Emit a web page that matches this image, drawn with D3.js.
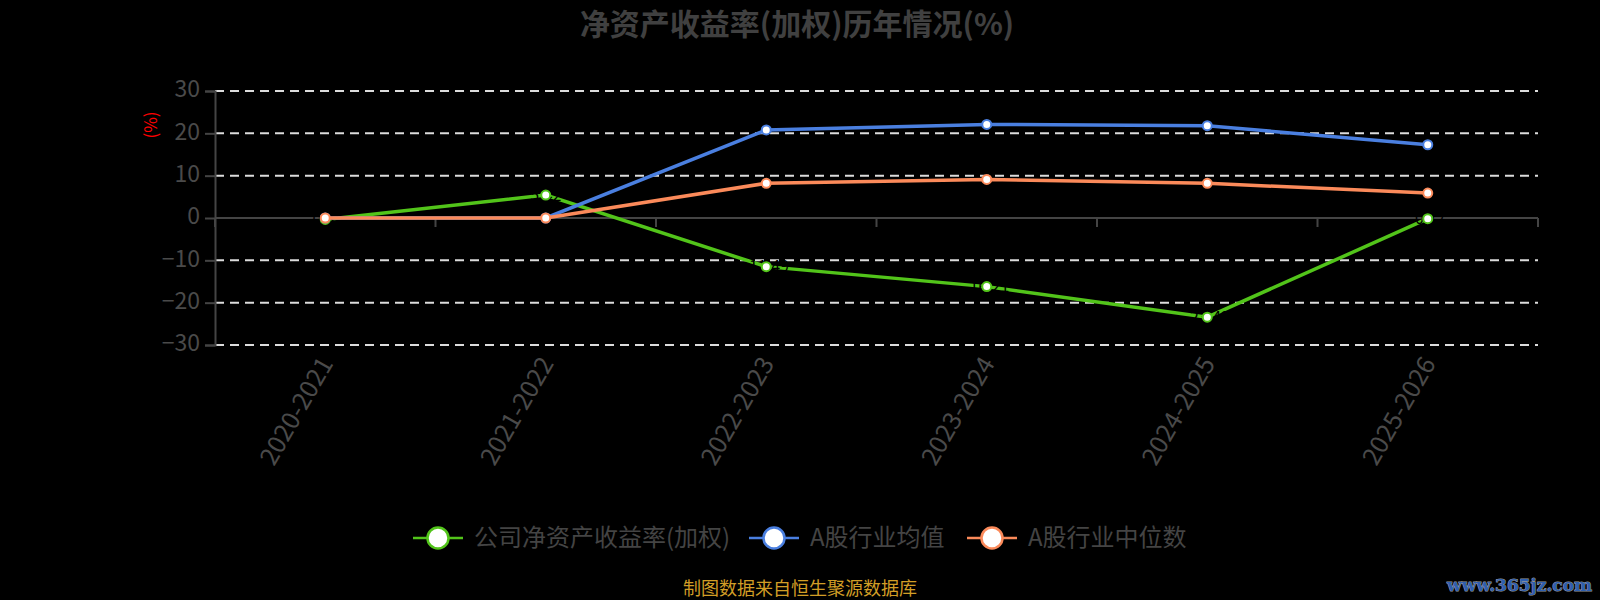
<!DOCTYPE html>
<html>
<head>
<meta charset="utf-8">
<script src="https://cdn.jsdelivr.net/npm/d3@7/dist/d3.min.js"></script>
<style>
  html, body { margin: 0; padding: 0; background: #000; }
  svg { display: block; }
</style>
</head>
<body>
<svg id="chart" width="1600" height="600"></svg>
<script>
// Chart data
var categories = ["2020-2021", "2021-2022", "2022-2023", "2023-2024", "2024-2025", "2025-2026"];
var companyRoe = [-0.35, 5.42, -11.49, -16.21, -23.42, -0.17];
var industryMean = [0, 0, 20.8, 22.1, 21.8, 17.3];
var industryMedian = [0, 0, 8.2, 9.1, 8.2, 5.9];
var yTicks = [-30, -20, -10, 0, 10, 20, 30];

var seriesList = [
	{ name: "公司净资产收益率(加权)", values: companyRoe, color: "#52c41a", labels: true },
	{ name: "A股行业均值", values: industryMean, color: "#4a7fe0", labels: false },
	{ name: "A股行业中位数", values: industryMedian, color: "#fb8a5a", labels: false }
];

var font = "'Noto Sans CJK SC', 'Open Sans', sans-serif";
var svg = d3.select("#chart");

var margin = { left: 215, right: 62, top: 91, bottom: 255 };
var width = 1600 - margin.left - margin.right;
var height = 600 - margin.top - margin.bottom;

var x = d3.scaleBand().domain(categories).range([margin.left, margin.left + width]);
var y = d3.scaleLinear().domain([-30, 30]).range([margin.top + height, margin.top]);

// Title:
svg.append("text")
	.attr("x", 797).attr("y", 24)
	.attr("dy", "0.35em")
	.attr("text-anchor", "middle")
	.style("font-family", font)
	.style("font-size", "30px")
	.style("font-weight", "bold")
	.attr("fill", "#404040")
	.text("净资产收益率(加权)历年情况(%)");

// Dashed grid lines (not for zero, which is the axis line):
svg.selectAll("line.grid")
	.data(yTicks.filter(function(d) { return d !== 0; }))
	.enter().append("line")
	.attr("class", "grid")
	.attr("x1", margin.left).attr("x2", margin.left + width)
	.attr("y1", function(d) { return y(d); })
	.attr("y2", function(d) { return y(d); })
	.attr("stroke", "#dcdcdc")
	.attr("stroke-width", 2)
	.attr("stroke-dasharray", "9,6");

// Y axis:
var yAxis = svg.append("g")
	.attr("transform", "translate(" + margin.left + ",0)")
	.call(d3.axisLeft(y).tickValues(yTicks).tickSize(10).tickPadding(5));
yAxis.select(".domain").attr("stroke", "#444").attr("stroke-width", 2);
yAxis.selectAll(".tick line").attr("stroke", "#444").attr("stroke-width", 2);
yAxis.selectAll(".tick text")
	.attr("fill", "#4a4a4a")
	.attr("dy", "0.25em")
	.style("font-family", font)
	.style("font-size", "23px");

// X axis line on zero, with ticks between categories:
var xAxis = svg.append("g")
	.attr("transform", "translate(0," + y(0) + ")");
xAxis.append("line")
	.attr("x1", margin.left).attr("x2", margin.left + width)
	.attr("stroke", "#444").attr("stroke-width", 2);
xAxis.selectAll("line.xtick")
	.data(d3.range(categories.length + 1))
	.enter().append("line")
	.attr("class", "xtick")
	.attr("x1", function(i) { return margin.left + i * x.bandwidth(); })
	.attr("x2", function(i) { return margin.left + i * x.bandwidth(); })
	.attr("y1", 0).attr("y2", 9)
	.attr("stroke", "#444").attr("stroke-width", 2);

// Rotated category labels under the grid:
svg.selectAll("text.xlabel")
	.data(categories)
	.enter().append("text")
	.attr("class", "xlabel")
	.attr("transform", function(d) {
		return "translate(" + (x(d) + x.bandwidth() / 2 + 1) + "," + (margin.top + height + 14) + ")rotate(-60)";
	})
	.attr("dy", "0.35em")
	.attr("text-anchor", "end")
	.attr("fill", "#4a4a4a")
	.style("font-family", font)
	.style("font-size", "25px")
	.text(function(d) { return d; });

// Y axis name:
svg.append("text")
	.attr("transform", "translate(151,125)rotate(-90)")
	.attr("dy", "0.35em")
	.attr("text-anchor", "middle")
	.attr("fill", "#ff0000")
	.style("font-family", font)
	.style("font-size", "17px")
	.text("(%)");

var line = d3.line()
	.x(function(d, i) { return x(categories[i]) + x.bandwidth() / 2; })
	.y(function(d) { return y(d); });

// Lines, markers and (black) value labels; the last series sits on top:
seriesList.forEach(function(s) {
	var g = svg.append("g");
	g.append("path")
		.datum(s.values)
		.attr("d", line)
		.attr("fill", "none")
		.attr("stroke", s.color)
		.attr("stroke-width", 3.5);
	if (s.labels) {
		g.selectAll("text")
			.data(s.values)
			.enter().append("text")
			.attr("x", function(d, i) { return x(categories[i]) + x.bandwidth() / 2; })
			.attr("y", function(d) { return y(d); })
			.attr("dy", "0.35em")
			.attr("text-anchor", "middle")
			.attr("fill", "#000")
			.style("font-family", font)
			.style("font-size", "16px")
			.text(function(d) { return d.toFixed(2); });
	}
	g.selectAll("circle")
		.data(s.values)
		.enter().append("circle")
		.attr("cx", function(d, i) { return x(categories[i]) + x.bandwidth() / 2; })
		.attr("cy", function(d) { return y(d); })
		.attr("r", 4.5)
		.attr("fill", "#fff")
		.attr("stroke", s.color)
		.attr("stroke-width", 2);
});

// Legend:
var legendX = [413, 749, 967];
var legend = svg.selectAll("g.legend")
	.data(seriesList)
	.enter().append("g")
	.attr("class", "legend")
	.attr("transform", function(d, i) { return "translate(" + legendX[i] + ",538)"; });
legend.append("line")
	.attr("x1", 0).attr("x2", 50)
	.attr("stroke", function(d) { return d.color; })
	.attr("stroke-width", 2.5);
legend.append("circle")
	.attr("cx", 25).attr("cy", 0)
	.attr("r", 10.5)
	.attr("fill", "#fff")
	.attr("stroke", function(d) { return d.color; })
	.attr("stroke-width", 2.5);
legend.append("text")
	.attr("x", 61).attr("dy", "0.35em")
	.attr("fill", "#444")
	.style("font-family", font)
	.style("font-size", "24px")
	.text(function(d) { return d.name; });

// Source note:
svg.append("text")
	.attr("x", 800).attr("y", 589)
	.attr("dy", "0.35em")
	.attr("text-anchor", "middle")
	.attr("fill", "#d29e26")
	.style("font-family", font)
	.style("font-size", "18px")
	.text("制图数据来自恒生聚源数据库");

// Watermark:
svg.append("text")
	.attr("x", 1592).attr("y", 585)
	.attr("dy", "0.35em")
	.attr("text-anchor", "end")
	.attr("fill", "#2f5fb0")
	.attr("stroke", "#9a9a9a")
	.attr("stroke-width", 1)
	.attr("paint-order", "stroke")
	.style("font-family", "'DejaVu Serif', serif")
	.style("font-size", "17px")
	.style("font-weight", "bold")
	.text("www.365jz.com");
</script>
</body>
</html>
